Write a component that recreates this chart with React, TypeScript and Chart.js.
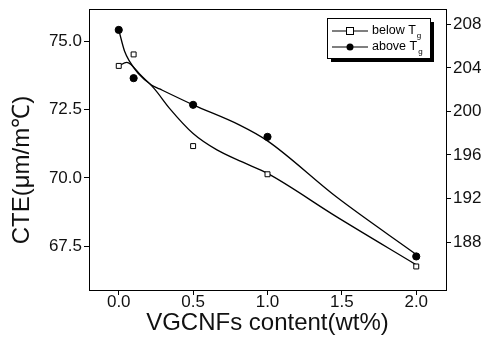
import React, { useEffect, useRef } from "react";
import { Chart, registerables } from "chart.js";

Chart.register(...registerables);

// ---- data ----
const xContent = [0, 0.1, 0.5, 1.0, 2.0];
const cteBelowTg = [74.09, 74.51, 71.16, 70.13, 66.76];
const cteAboveTg = [207.48, 203.05, 200.6, 197.66, 186.68];

// fitted curves
const belowFitX = [0, 0.054, 0.08, 0.14, 0.24, 0.34, 0.5, 0.66, 0.83, 1.0, 1.46, 2.0];
const belowFitY = [74.09, 74.22, 74.15, 73.8, 73.25, 72.55, 71.62, 71.02, 70.58, 70.16, 68.59, 66.82];
const aboveFitX = [0, 0.04, 0.074, 0.13, 0.22, 0.275, 0.5, 0.81, 1.0, 1.46, 2.0];
const aboveFitY = [207.48, 205.49, 204.57, 203.5, 202.43, 202.06, 200.6, 198.76, 197.29, 192.18, 186.86];

const xTicks = [0, 0.5, 1.0, 1.5, 2.0];
const leftTicks = [67.5, 70.0, 72.5, 75.0];
const rightTicks = [188, 192, 196, 200, 204, 208];

const xTitle = "VGCNFs content(wt%)";
const yTitle = "CTE(μm/m℃)";
const legendLabels = ["below T", "above T"];
const legendSub = "g";

const FONT = "'Liberation Sans', Arial, Helvetica, sans-serif";

const pts = (xs: number[], ys: number[]) => xs.map((x, i) => ({ x, y: ys[i] }));

const framePlugin = {
  id: "frame",
  afterDatasetsDraw(chart: any) {
    const { ctx, chartArea } = chart;
    ctx.save();
    ctx.strokeStyle = "#000";
    ctx.lineWidth = 1;
    ctx.beginPath();
    ctx.moveTo(chartArea.left, chartArea.top + 0.5);
    ctx.lineTo(chartArea.right, chartArea.top + 0.5);
    ctx.stroke();
    ctx.restore();
  },
};

const yTitlePlugin = {
  id: "yTitle",
  afterDraw(chart: any) {
    const { ctx } = chart;
    ctx.save();
    ctx.translate(22, 170);
    ctx.rotate(-Math.PI / 2);
    ctx.fillStyle = "#111";
    ctx.font = `24px ${FONT}`;
    ctx.textAlign = "center";
    ctx.textBaseline = "middle";
    ctx.fillText(yTitle, 0, 0);
    ctx.restore();
  },
};

const legendPlugin = {
  id: "customLegend",
  afterDraw(chart: any) {
    const { ctx } = chart;
    const bx = 327, by = 18, bw = 103, bh = 40, sh = 4;
    ctx.save();
    ctx.fillStyle = "#000";
    ctx.fillRect(bx + sh, by + sh, bw, bh);
    ctx.fillStyle = "#fff";
    ctx.fillRect(bx, by, bw, bh);
    ctx.strokeStyle = "#000";
    ctx.lineWidth = 1;
    ctx.strokeRect(bx + 0.5, by + 0.5, bw, bh);

    const rows = [by + 13, by + 29];
    rows.forEach((y, i) => {
      ctx.strokeStyle = "#000";
      ctx.lineWidth = 1.2;
      ctx.beginPath();
      ctx.moveTo(bx + 5, y);
      ctx.lineTo(bx + 41, y);
      ctx.stroke();
      const mx = bx + 23;
      if (i === 0) {
        ctx.fillStyle = "#fff";
        ctx.fillRect(mx - 3.5, y - 3.5, 7, 7);
        ctx.lineWidth = 1;
        ctx.strokeRect(mx - 3.5, y - 3.5, 7, 7);
      } else {
        ctx.fillStyle = "#000";
        ctx.beginPath();
        ctx.arc(mx, y, 3.5, 0, Math.PI * 2);
        ctx.fill();
      }
      ctx.fillStyle = "#000";
      ctx.font = `12.5px ${FONT}`;
      ctx.textBaseline = "middle";
      ctx.textAlign = "left";
      const tx = bx + 45;
      ctx.fillText(legendLabels[i], tx, y);
      const w = ctx.measureText(legendLabels[i]).width;
      ctx.font = `8px ${FONT}`;
      ctx.fillText(legendSub, tx + w + 1, y + 5);
    });
    ctx.restore();
  },
};

export default function App() {
  const ref = useRef<HTMLCanvasElement | null>(null);

  useEffect(() => {
    if (!ref.current) return;
    const tickFont = { family: FONT, size: 17 };
    const titleFont = { family: FONT, size: 24 };
    const vFit = (w: number) => (s: any) => {
      s.width = w;
      s.paddingTop = 0;
      s.paddingBottom = 0;
    };
    const chart = new Chart(ref.current, {
      type: "line",
      data: {
        datasets: [
          {
            label: "below Tg",
            data: pts(xContent, cteBelowTg),
            yAxisID: "y",
            showLine: false,
            pointStyle: "rect",
            pointRadius: 3.5,
            pointBackgroundColor: "#fff",
            pointBorderColor: "#000",
            pointBorderWidth: 1,
          },
          {
            label: "above Tg",
            data: pts(xContent, cteAboveTg),
            yAxisID: "y2",
            showLine: false,
            pointStyle: "circle",
            pointRadius: 3.6,
            pointBackgroundColor: "#000",
            pointBorderColor: "#000",
            pointBorderWidth: 1,
          },
          {
            label: "below fit",
            data: pts(belowFitX, belowFitY),
            yAxisID: "y",
            borderColor: "#000",
            borderWidth: 1.3,
            pointRadius: 0,
            cubicInterpolationMode: "monotone",
          },
          {
            label: "above fit",
            data: pts(aboveFitX, aboveFitY),
            yAxisID: "y2",
            borderColor: "#000",
            borderWidth: 1.3,
            pointRadius: 0,
            cubicInterpolationMode: "monotone",
          },
        ],
      },
      options: {
        animation: false,
        responsive: true,
        maintainAspectRatio: false,
        layout: { padding: { top: 9, left: 0, right: 0, bottom: 0 } },
        plugins: { legend: { display: false }, tooltip: { enabled: false } },
        scales: {
          x: {
            type: "linear",
            min: -0.2,
            max: 2.2,
            afterBuildTicks: (s: any) => {
              s.ticks = xTicks.map((v) => ({ value: v }));
            },
            afterFit: (s: any) => {
              s.height = 53;
              s.paddingLeft = 0;
              s.paddingRight = 0;
            },
            ticks: {
              font: tickFont,
              color: "#111",
              padding: -3,
              maxRotation: 0,
              callback: (v: any) => Number(v).toFixed(1),
            },
            grid: { drawOnChartArea: false, drawTicks: true, tickLength: 5, color: "#000" },
            border: { display: true, color: "#000", width: 1 },
            title: { display: true, text: xTitle, font: titleFont, color: "#111", padding: { top: 0, bottom: 5 } },
          },
          y: {
            type: "linear",
            position: "left",
            min: 65.9,
            max: 76.17,
            afterBuildTicks: (s: any) => {
              s.ticks = leftTicks.map((v) => ({ value: v }));
            },
            afterFit: vFit(89),
            ticks: {
              font: tickFont,
              color: "#111",
              padding: 2,
              callback: (v: any) => Number(v).toFixed(1),
            },
            grid: { drawOnChartArea: false, drawTicks: true, tickLength: 5, color: "#000" },
            border: { display: true, color: "#000", width: 1 },
          },
          y2: {
            type: "linear",
            position: "right",
            min: 183.6,
            max: 209.4,
            afterBuildTicks: (s: any) => {
              s.ticks = rightTicks.map((v) => ({ value: v }));
            },
            afterFit: vFit(40),
            ticks: {
              font: tickFont,
              color: "#111",
              padding: 2,
              callback: (v: any) => String(v),
            },
            grid: { drawOnChartArea: false, drawTicks: true, tickLength: 5, color: "#000" },
            border: { display: true, color: "#000", width: 1 },
          },
        },
      },
      plugins: [framePlugin, yTitlePlugin, legendPlugin],
    } as any);
    return () => chart.destroy();
  }, []);

  return (
    <div style={{ position: "fixed", left: 0, top: 0, width: 486, height: 343, background: "#fff" }}>
      <canvas ref={ref} />
    </div>
  );
}
